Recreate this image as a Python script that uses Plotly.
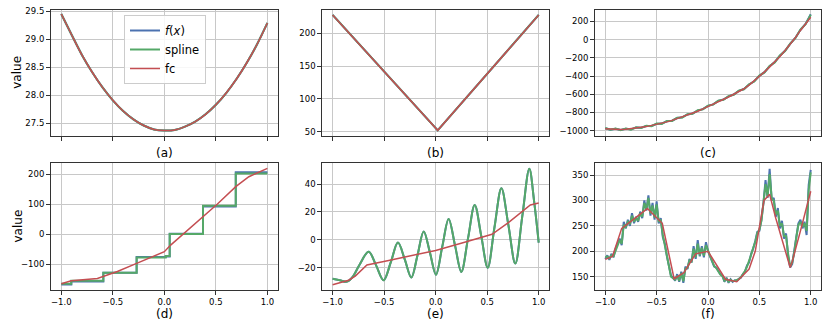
import plotly.graph_objects as go
from plotly.subplots import make_subplots

BLUE = "#4c72b0"
GREEN = "#55a868"
RED = "#c44e52"

# (a) smooth parabola
xa = [-1.0, -0.9, -0.8, -0.7, -0.6, -0.5, -0.4, -0.3, -0.2, -0.1, 0.0,
      0.1, 0.2, 0.3, 0.4, 0.5, 0.6, 0.7, 0.8, 0.9, 1.0]
ya = [29.45, 29.08, 28.72, 28.41, 28.14, 27.91, 27.72, 27.57, 27.46, 27.39, 27.37,
      27.38, 27.44, 27.53, 27.66, 27.83, 28.04, 28.29, 28.58, 28.91, 29.29]

# (b) V shape
xb = [-1.0, 0.02, 1.0]
yb = [228, 52, 228]

# (c) rising curve with small wiggles
xc = [-1.0, -0.95, -0.9, -0.85, -0.8, -0.75, -0.7, -0.65, -0.6, -0.55, -0.5,
      -0.45, -0.4, -0.35, -0.3, -0.25, -0.2, -0.15, -0.1, -0.05, 0.0,
      0.05, 0.1, 0.15, 0.2, 0.25, 0.3, 0.35, 0.4, 0.45, 0.5,
      0.55, 0.6, 0.65, 0.7, 0.75, 0.8, 0.85, 0.9, 0.95, 1.0]
yc_f = [-973, -988, -978, -992, -978, -985, -965, -968, -948, -948, -925,
        -922, -896, -890, -861, -853, -822, -811, -779, -763, -728,
        -711, -673, -658, -623, -603, -563, -543, -493, -458, -398,
        -358, -293, -248, -178, -123, -48, 17, 107, 172, 278]
yc_s = [-970, -990, -975, -995, -975, -988, -962, -970, -945, -950, -922,
        -925, -893, -893, -858, -856, -819, -814, -776, -766, -725,
        -714, -670, -661, -620, -606, -560, -546, -490, -461, -395,
        -361, -290, -251, -175, -126, -45, 14, 110, 169, 272]
yc_fc = [-978, -982, -985, -986, -985, -980, -972, -963, -955, -944, -932,
         -918, -903, -887, -868, -850, -829, -808, -786, -760, -735,
         -708, -680, -655, -630, -600, -570, -540, -500, -455, -405,
         -355, -300, -245, -185, -120, -55, 20, 100, 175, 245]

# (d) staircase
xd_step = [-1.0, -0.903, -0.592, -0.269, 0.013, 0.052, 0.375, 0.693, 1.0]
yd_f = [-167, -157, -128, -76, -74, 2, 93, 207, 207]
yd_s = [-165, -155, -128, -77, -72, 1, 95, 203, 203]
xd_fc = [-1.0, -0.903, -0.65, -0.456, -0.269, -0.133, 0.0, 0.061, 0.19,
         0.375, 0.515, 0.693, 0.82, 1.0]
yd_fc = [-165, -155, -147, -124, -97, -78, -58, -36, 3,
         59, 101, 159, 192, 220]

# (e) growing oscillation
xe = [-1.0, -0.93, -0.86, -0.8, -0.74, -0.65, -0.58, -0.505, -0.435, -0.366,
      -0.3, -0.236, -0.176, -0.116, -0.056, 0.003, 0.064, 0.126, 0.188, 0.249,
      0.314, 0.379, 0.442, 0.505, 0.571, 0.638, 0.705, 0.773, 0.841, 0.909,
      0.955, 1.0]
ye = [-28, -29, -30, -26, -18, -8.5, -18, -29, -16, -2,
      -14, -27, -11, 6, -9, -25, -5, 15, -4, -23,
      1, 25, 3, -20, 9, 37, 11, -17, 17, 51,
      28, -2]
xe_fc = [-1.0, -0.845, -0.78, -0.667, -0.456, -0.197, 0.0, 0.256, 0.547,
         0.709, 0.919, 1.0]
ye_fc = [-32.2, -29, -26, -18, -14.8, -10.7, -7.6, -2.3, 4,
         12.5, 25, 26.4]

# (f) noisy bumps
xf = [round(-1 + 0.02 * i, 2) for i in range(101)]
yf_f = [185, 192, 183, 195, 188, 205, 215, 225, 212, 258,
        245, 262, 250, 275, 255, 268, 258, 278, 265, 300,
        280, 310, 270, 295, 262, 298, 255, 265, 228, 215,
        190, 170, 152, 148, 142, 155, 140, 160, 138, 170,
        165, 185, 178, 210, 185, 222, 190, 210, 188, 218,
        200, 190, 180, 170, 168, 160, 155, 152, 140, 148,
        138, 145, 140, 143, 142, 146, 148, 155, 160, 172,
        178, 195, 205, 220, 238, 240, 262, 295, 340, 305,
        362, 300, 305, 268, 285, 245, 260, 225, 235, 190,
        168, 175, 200, 225, 255, 262, 245, 258, 232, 330,
        360]
yf_s = [188, 190, 186, 192, 190, 202, 212, 222, 215, 252,
        248, 258, 253, 270, 258, 265, 260, 275, 268, 295,
        283, 305, 274, 290, 266, 292, 258, 262, 232, 212,
        192, 168, 150, 147, 144, 152, 142, 157, 141, 166,
        167, 182, 180, 205, 188, 215, 192, 207, 191, 212,
        200, 191, 181, 171, 167, 160, 154, 151, 142, 146,
        140, 144, 141, 142, 143, 145, 149, 154, 161, 170,
        180, 193, 207, 218, 236, 242, 260, 292, 332, 308,
        352, 304, 300, 272, 280, 250, 255, 230, 230, 195,
        170, 178, 198, 228, 252, 258, 248, 255, 240, 320,
        355]
xf_fc = [-1.0, -0.93, -0.84, -0.59, -0.445, -0.33, -0.235, -0.12, 0.0, 0.17,
         0.28, 0.4, 0.46, 0.545, 0.6, 0.66, 0.8, 0.82, 0.9, 1.0]
yf_fc = [184, 190, 245, 284, 255, 146, 158, 195, 200, 145,
         140, 165, 200, 300, 312, 265, 168, 180, 240, 318]

panels = [
    dict(x=[xa, xa, xa], y=[ya, ya, ya], shape="spline",
         yr=[27.273, 29.53], tv=[27.5, 28.0, 28.5, 29.0, 29.5], fmt=".1f", lab="(a)"),
    dict(x=[xb, xb, xb], y=[yb, yb, yb], shape="linear",
         yr=[43.4, 236.3], tv=[50, 100, 150, 200], fmt="", lab="(b)"),
    dict(x=[xc, xc, xc], y=[yc_f, yc_s, yc_fc], shape="linear",
         yr=[-1058, 329.5], tv=[-1000, -800, -600, -400, -200, 0, 200], fmt="", lab="(c)"),
    dict(x=[xd_step, xd_step, xd_fc], y=[yd_f, yd_s, yd_fc], shape=["hv", "hv", "linear"],
         yr=[-185.7, 237.7], tv=[-100, 0, 100, 200], fmt="", lab="(d)"),
    dict(x=[xe, xe, xe_fc], y=[ye, ye, ye_fc], shape=["spline", "spline", "linear"],
         yr=[-36, 55.1], tv=[-20, 0, 20, 40], fmt="", lab="(e)"),
    dict(x=[xf, xf, xf_fc], y=[yf_f, yf_s, yf_fc], shape="linear",
         yr=[123.8, 373.6], tv=[150, 200, 250, 300, 350], fmt="", lab="(f)"),
]

# page body margin is removed (post_script below), so positions are page pixels
W, H = 830, 326
xdoms = [(51, 277.7), (322.3, 549), (595, 821)]
ydoms = [(9.5, 136), (163, 290)]


def px(v):
    return v / W


def py(v):
    return 1 - v / H


fig = make_subplots(rows=2, cols=3)
names = ["<i>f</i>(<i>x</i>)", "spline", "fc"]
colors = [BLUE, GREEN, RED]
widths = [2, 2, 1.5]

for i, p in enumerate(panels):
    r, c = i // 3 + 1, i % 3 + 1
    for k in range(3):
        shp = p["shape"][k] if isinstance(p["shape"], list) else p["shape"]
        fig.add_trace(go.Scatter(
            x=p["x"][k], y=p["y"][k], mode="lines", name=names[k],
            line=dict(color=colors[k], width=widths[k], shape=shp),
            showlegend=(i == 0)), row=r, col=c)
    x0, x1 = xdoms[c - 1]
    y0, y1 = ydoms[r - 1]
    fig.update_xaxes(domain=[px(x0), px(x1)], range=[-1.1, 1.1],
                     tickvals=[-1, -0.5, 0, 0.5, 1], tickformat=".1f",
                     showticklabels=(r == 2), row=r, col=c)
    fig.update_yaxes(domain=[py(y1), py(y0)], range=p["yr"],
                     tickvals=p["tv"], tickformat=p["fmt"], row=r, col=c)
    fig.add_annotation(text=p["lab"], x=px((x0 + x1) / 2),
                       y=py(153 if r == 1 else 314),
                       xref="paper", yref="paper", showarrow=False,
                       xanchor="center", yanchor="middle",
                       font=dict(size=12, color="#000"))

for r in (1, 2):
    y0, y1 = ydoms[r - 1]
    fig.add_annotation(text="value", x=px(17), y=py((y0 + y1) / 2),
                       xref="paper", yref="paper", showarrow=False, textangle=-90,
                       xanchor="center", yanchor="middle",
                       font=dict(size=12, color="#000"))

axis_style = dict(showline=True, mirror=True, linecolor="#333", linewidth=1,
                  ticks="outside", ticklen=4, tickcolor="#333",
                  showgrid=True, gridcolor="#c8c8c8", gridwidth=1,
                  zeroline=False, automargin=False, ticklabeloverflow="allow",
                  tickfont=dict(size=8.5, color="#000"))
fig.update_xaxes(**axis_style)
fig.update_yaxes(**axis_style)

fig.update_layout(
    width=W, height=H,
    margin=dict(l=0, r=0, t=0, b=0),
    paper_bgcolor="white", plot_bgcolor="white",
    font=dict(family="DejaVu Sans", color="#000"),
    legend=dict(x=px(124), y=py(15), xanchor="left", yanchor="top",
                bgcolor="rgba(255,255,255,0.85)", bordercolor="#cccccc",
                borderwidth=1, font=dict(size=11.5), itemwidth=30,
                tracegroupgap=0),
)

fig.write_html("out.html", config={"displayModeBar": False},
               post_script="document.body.style.margin='0px';")
